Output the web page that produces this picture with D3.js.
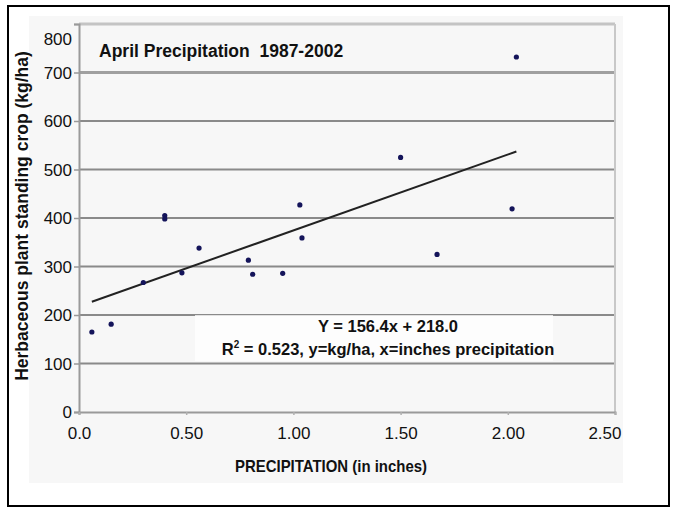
<!DOCTYPE html>
<html><head><meta charset="utf-8">
<script src="https://cdn.jsdelivr.net/npm/d3@7"></script>
<style>
html,body{margin:0;padding:0;background:#fff;}
text{font-family:"Liberation Sans",Arial,Helvetica,sans-serif;}
</style></head>
<body>
<svg id="c" width="673" height="508"></svg>
<script>
// ---- data ----
const precipitation = [0.06, 0.15, 0.30, 0.40, 0.40, 0.48, 0.56, 0.79, 0.81, 0.95, 1.03, 1.04, 1.50, 1.67, 2.02, 2.04];
const standingCrop  = [165, 181, 267, 405, 398, 287, 338, 313, 284, 286, 427, 359, 525, 325, 419, 732];
const xTickValues = [0, 0.5, 1.0, 1.5, 2.0, 2.5];
const xTickLabels = ["0.0", "0.50", "1.00", "1.50", "2.00", "2.50"];
const yTickValues = [0, 100, 200, 300, 400, 500, 600, 700, 800];
const trendSlope = 156.4, trendIntercept = 218.0;
const chartTitle = "April Precipitation  1987-2002";
const xTitle = "PRECIPITATION (in inches)";
const yTitle = "Herbaceous plant standing crop (kg/ha)";
const eqLine1 = "Y = 156.4x + 218.0";

const svg = d3.select("#c");
const L = 79, R = 615, T = 24, B = 412;

// outer frame
svg.append("rect").attr("x", 8).attr("y", 6).attr("width", 661).attr("height", 500)
  .attr("fill", "#fff").attr("stroke", "#000").attr("stroke-width", 2);
// chart area
svg.append("rect").attr("x", 29).attr("y", 16).attr("width", 594).attr("height", 467).attr("fill", "#f7f7f7");

const x = d3.scaleLinear().domain([0, 2.5]).range([L, R]);
const y = d3.scaleLinear().domain([0, 800]).range([B, T]);

// gridlines
svg.append("g").selectAll("line").data(yTickValues.filter(v => v > 0)).join("line")
  .attr("x1", L).attr("x2", R)
  .attr("y1", d => y(d)).attr("y2", d => y(d))
  .attr("stroke", d => d === 800 ? "#c4c4c4" : (d === 700 ? "#a0a0a0" : "#8a8a8a"))
  .attr("stroke-width", d => d >= 700 ? 3 : 2);
// right border
svg.append("line").attr("x1", R).attr("x2", R).attr("y1", T).attr("y2", B)
  .attr("stroke", "#c8c8c8").attr("stroke-width", 2);

// axes
const yAxis = svg.append("g").attr("transform", `translate(${L},0)`)
  .call(d3.axisLeft(y).tickValues(yTickValues).tickSize(5).tickPadding(2));
yAxis.select(".domain").attr("stroke", "#9a9a9a").attr("stroke-width", 2);
yAxis.selectAll(".tick line").attr("stroke", "#9a9a9a").attr("stroke-width", 1.5);
yAxis.selectAll(".tick text").attr("font-size", 17).attr("fill", "#111")
  .attr("font-family", "'Liberation Sans',Arial,sans-serif")
  .attr("dy", d => d === 800 ? "1.2em" : "0.35em");

const xAxis = svg.append("g").attr("transform", `translate(0,${B})`)
  .call(d3.axisBottom(x).tickValues(xTickValues).tickFormat((d, i) => xTickLabels[i]).tickSize(3).tickPadding(12));
xAxis.select(".domain").attr("stroke", "#9a9a9a").attr("stroke-width", 2);
xAxis.selectAll(".tick line").attr("stroke", "#b0b0b0").attr("stroke-width", 1.5);
xAxis.selectAll(".tick text").attr("font-size", 17).attr("fill", "#111")
  .attr("font-family", "'Liberation Sans',Arial,sans-serif")
  .attr("text-anchor", (d, i) => i === xTickValues.length - 1 ? "end" : "middle")
  .attr("dx", (d, i) => i === xTickValues.length - 1 ? 6 : 0);

// equation box
svg.append("rect").attr("x", 195).attr("y", 315).attr("width", 358).attr("height", 46)
  .attr("fill", "#fff").attr("opacity", 0.75);

// trend line
const xMin = d3.min(precipitation), xMax = d3.max(precipitation);
svg.append("line")
  .attr("x1", x(xMin)).attr("y1", y(trendSlope * xMin + trendIntercept))
  .attr("x2", x(xMax)).attr("y2", y(trendSlope * xMax + trendIntercept))
  .attr("stroke", "#222").attr("stroke-width", 2);

// points
svg.append("g").selectAll("circle").data(precipitation).join("circle")
  .attr("cx", d => x(d)).attr("cy", (d, i) => y(standingCrop[i]))
  .attr("r", 2.6).attr("fill", "#14145a");

// texts
svg.append("text").attr("x", 99).attr("y", 57).attr("font-size", 17.5).attr("font-weight", "bold")
  .style("white-space", "pre").attr("fill", "#111").text(chartTitle);

svg.append("text").attr("x", 331).attr("y", 472).attr("text-anchor", "middle")
  .attr("font-size", 17).attr("font-weight", "bold").attr("fill", "#111")
  .attr("textLength", 192).attr("lengthAdjust", "spacingAndGlyphs").text(xTitle);

svg.append("text").attr("transform", "translate(28,216) rotate(-90)").attr("text-anchor", "middle")
  .attr("font-size", 17.5).attr("font-weight", "bold").attr("fill", "#111").text(yTitle);

svg.append("text").attr("x", 388).attr("y", 332).attr("text-anchor", "middle")
  .attr("font-size", 16.5).attr("font-weight", "bold").attr("fill", "#111").text(eqLine1);

const eq2 = svg.append("text").attr("x", 388).attr("y", 355).attr("text-anchor", "middle")
  .attr("font-size", 16.5).attr("font-weight", "bold").attr("fill", "#111");
eq2.append("tspan").text("R");
eq2.append("tspan").attr("font-size", 10).attr("dy", -7).text("2");
eq2.append("tspan").attr("dy", 7).text(" = 0.523, y=kg/ha, x=inches precipitation");
</script>
</body></html>
